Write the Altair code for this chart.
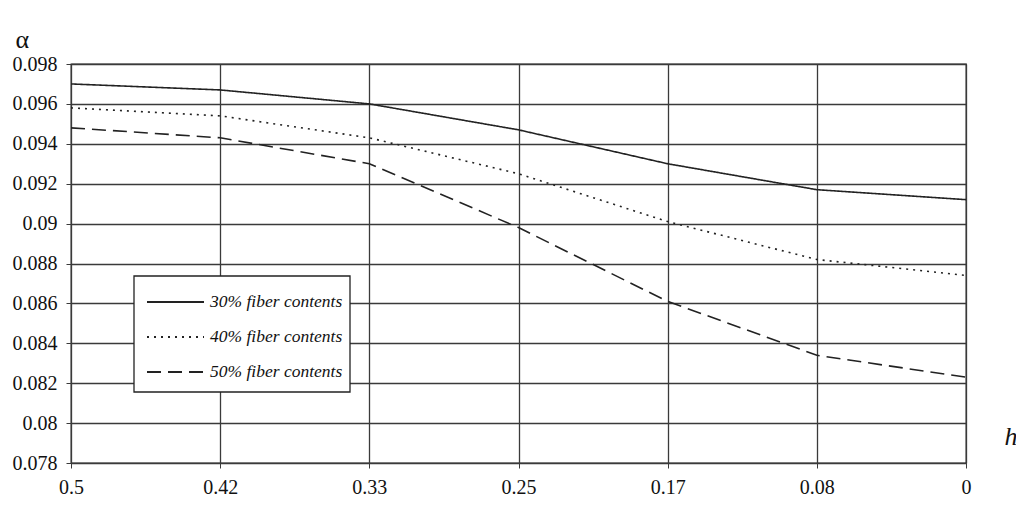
import altair as alt
import pandas as pd

h_labels = ["0.5", "0.42", "0.33", "0.25", "0.17", "0.08", "0"]
series_names = ["30% fiber contents", "40% fiber contents", "50% fiber contents"]
alpha_30 = [0.0970, 0.0967, 0.0960, 0.0947, 0.0930, 0.0917, 0.0912]
alpha_40 = [0.0958, 0.0954, 0.0943, 0.0925, 0.0901, 0.0882, 0.0874]
alpha_50 = [0.0948, 0.0943, 0.0930, 0.0898, 0.0861, 0.0834, 0.0823]
y_ticks = [0.078, 0.080, 0.082, 0.084, 0.086, 0.088, 0.090, 0.092, 0.094, 0.096, 0.098]

rows = []
for name, vals in zip(series_names, [alpha_30, alpha_40, alpha_50]):
    for h, v in zip(h_labels, vals):
        rows.append({"h": h, "alpha": v, "series": name})
df = pd.DataFrame(rows)
legend_df = pd.DataFrame({"series": series_names})

FONT = "Liberation Serif"
INK = "#222222"

dash_scale = alt.Scale(domain=series_names, range=[[1, 0], [2, 5], [14, 7]])
legend_rows = alt.Scale(type="point", domain=series_names, range=[238, 308], padding=0)

x_enc = alt.X("h:O", sort=h_labels, scale=alt.Scale(type="point", padding=0),
              axis=alt.Axis(title="h", titleFont=FONT, titleFontStyle="italic",
                            titleFontSize=26, titleFontWeight="normal", titleAngle=0,
                            titleAnchor="end", titleX=946, titleY=-40,
                            titleColor="#111",
                            labelAngle=0, labelFont=FONT, labelFontSize=20,
                            labelColor="#111", labelPadding=9,
                            grid=True, gridColor="#3a3a3a", gridWidth=1.3,
                            domain=False, ticks=True, tickColor="#3a3a3a", tickSize=5))
y_enc = alt.Y("alpha:Q", scale=alt.Scale(domain=[0.078, 0.098], nice=False, zero=False),
              axis=alt.Axis(values=y_ticks, format=".3~f", title="α", titleFont=FONT,
                            titleFontSize=26, titleFontWeight="normal", titleAngle=0,
                            titleX=-56, titleY=-12, titleAnchor="start",
                            titleColor="#111",
                            labelFont=FONT, labelFontSize=20, labelColor="#111",
                            labelPadding=9,
                            grid=True, gridColor="#3a3a3a", gridWidth=1.3,
                            domain=False, ticks=True, tickColor="#3a3a3a", tickSize=5))

lines = alt.Chart(df).mark_line(strokeWidth=1.6, color=INK).encode(
    x=x_enc,
    y=y_enc,
    strokeDash=alt.StrokeDash("series:N", sort=series_names, scale=dash_scale, legend=None),
)

# legend: white framed box, sample strokes and italic labels
legend_box = alt.Chart(pd.DataFrame({"k": [0]})).mark_rect(
    fill="white", stroke="#222", strokeWidth=1.3
).encode(x=alt.value(63), x2=alt.value(279), y=alt.value(212), y2=alt.value(328))

legend_lines = alt.Chart(legend_df).mark_rule(strokeWidth=1.8, color=INK).encode(
    x=alt.value(76), x2=alt.value(133),
    y=alt.Y("series:N", scale=legend_rows, axis=None),
    strokeDash=alt.StrokeDash("series:N", scale=dash_scale, legend=None),
)
legend_text = alt.Chart(legend_df).mark_text(
    font=FONT, fontStyle="italic", fontSize=17.5, color="#111",
    align="left", baseline="middle",
).encode(
    x=alt.value(139),
    y=alt.Y("series:N", scale=legend_rows, axis=None),
    text="series:N",
)

legend = alt.layer(legend_box, legend_lines, legend_text)

chart = alt.layer(lines, legend).resolve_scale(y="independent").properties(
    width=895, height=399,
    autosize=alt.AutoSizeParams(type="none"),
    padding={"left": 63, "top": 56, "right": 50, "bottom": 36},
    background="white",
).configure_view(stroke="#222", strokeWidth=1.3)

chart.save("out.html", embed_options={"renderer": "svg", "actions": False})
